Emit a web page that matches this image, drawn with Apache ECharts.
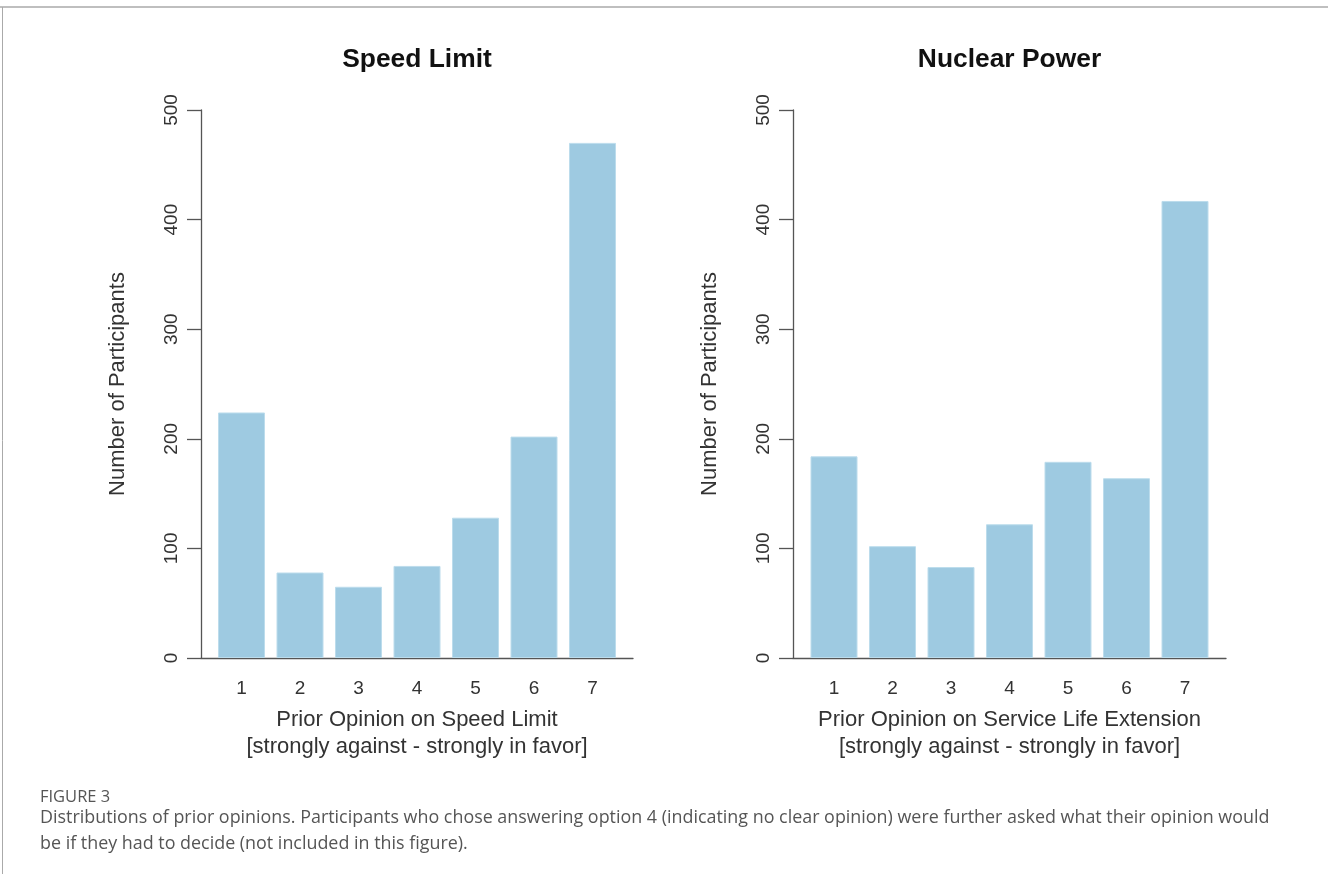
<!DOCTYPE html>
<html>
<head>
<meta charset="utf-8">
<script src="https://cdn.jsdelivr.net/npm/echarts@6/dist/echarts.min.js"></script>
<style>
html,body{margin:0;padding:0;background:#fff;}
#chart{width:1328px;height:874px;}
</style>
</head>
<body>
<div id="chart"></div>
<script>
// ---- data ----
const categories = [1, 2, 3, 4, 5, 6, 7];
const speedLimitCounts = [224, 78, 65, 84, 128, 202, 470];
const nuclearPowerCounts = [184, 102, 83, 122, 179, 164, 417];
const yTicks = [0, 100, 200, 300, 400, 500];
const titles = ['Speed Limit', 'Nuclear Power'];
const xNames = [
  'Prior Opinion on Speed Limit\n[strongly against - strongly in favor]',
  'Prior Opinion on Service Life Extension\n[strongly against - strongly in favor]'
];
const yName = 'Number of Participants';
const captionLabel = 'FIGURE 3';
const captionText = 'Distributions of prior opinions. Participants who chose answering option 4 (indicating no clear opinion) were further asked what their opinion would\nbe if they had to decide (not included in this figure).';

// ---- build ----
const FONT = 'Liberation Sans, Arial, Helvetica, sans-serif';
const CAP_FONT = 'Open Sans, Noto Sans, sans-serif';
const BAR_COLOR = '#9ECAE1';
const AXIS_COLOR = '#555';
const panels = [
  { left: 201, width: 432, counts: speedLimitCounts },
  { left: 793, width: 433, counts: nuclearPowerCounts }
];
const unit = 58.5;

const grids = [], xAxes = [], yAxes = [], series = [], titleList = [];
panels.forEach((p, i) => {
  grids.push({ left: p.left, top: 110, width: p.width, height: 548 });
  const half = p.width / 2 / unit;
  const mid = (categories[0] + categories[categories.length - 1]) / 2;
  xAxes.push({
    type: 'value', gridIndex: i, min: mid - half, max: mid + half,
    splitLine: { show: false },
    axisLine: { show: true, onZero: false, lineStyle: { color: AXIS_COLOR, width: 1.3 } },
    axisTick: { show: false },
    axisLabel: { customValues: categories, fontSize: 19, color: '#333', fontFamily: FONT, margin: 21 },
    name: xNames[i], nameLocation: 'middle', nameGap: 48,
    nameTextStyle: { fontSize: 22, color: '#333', fontFamily: FONT, lineHeight: 27 }
  });
  yAxes.push({
    type: 'value', gridIndex: i, min: 0, max: 500, interval: 100,
    splitLine: { show: false },
    axisLine: { show: true, lineStyle: { color: AXIS_COLOR, width: 1.3 } },
    axisTick: { show: true, length: 14, lineStyle: { color: AXIS_COLOR, width: 1.3 } },
    axisLabel: { rotate: 90, fontSize: 19, color: '#333', fontFamily: FONT, margin: 20,
      customValues: yTicks },
    name: yName, nameLocation: 'middle', nameGap: 72,
    nameTextStyle: { fontSize: 22, color: '#333', fontFamily: FONT }
  });
  series.push({
    type: 'bar', xAxisIndex: i, yAxisIndex: i,
    data: categories.map((c, k) => [c, p.counts[k]]),
    barWidth: 47,
    itemStyle: { color: BAR_COLOR, borderColor: '#bcdcec', borderWidth: 1 },
    silent: true
  });
  titleList.push({
    text: titles[i], left: p.left + p.width / 2 - 5, top: 42, textAlign: 'center',
    textStyle: { fontSize: 26.4, fontWeight: 'bold', color: '#111', fontFamily: FONT }
  });
});

titleList.push({
  text: captionLabel, left: 35, top: 784,
  textStyle: { fontSize: 16.5, fontWeight: 'normal', color: '#555', fontFamily: CAP_FONT }
});
titleList.push({
  text: captionText, left: 35, top: 800,
  textStyle: { fontSize: 17.9, fontWeight: 'normal', color: '#555', lineHeight: 26, fontFamily: CAP_FONT }
});

const chart = echarts.init(document.getElementById('chart'), null, { renderer: 'canvas' });
chart.setOption({
  backgroundColor: '#fff',
  animation: false,
  title: titleList,
  grid: grids,
  xAxis: xAxes,
  yAxis: yAxes,
  series: series,
  graphic: [
    { type: 'line', shape: { x1: 0, y1: 7, x2: 1328, y2: 7 }, style: { stroke: '#aaa', lineWidth: 1.5 }, silent: true },
    { type: 'line', shape: { x1: 2.5, y1: 7, x2: 2.5, y2: 874 }, style: { stroke: '#aaa', lineWidth: 1 }, silent: true }
  ]
});
</script>
</body>
</html>
